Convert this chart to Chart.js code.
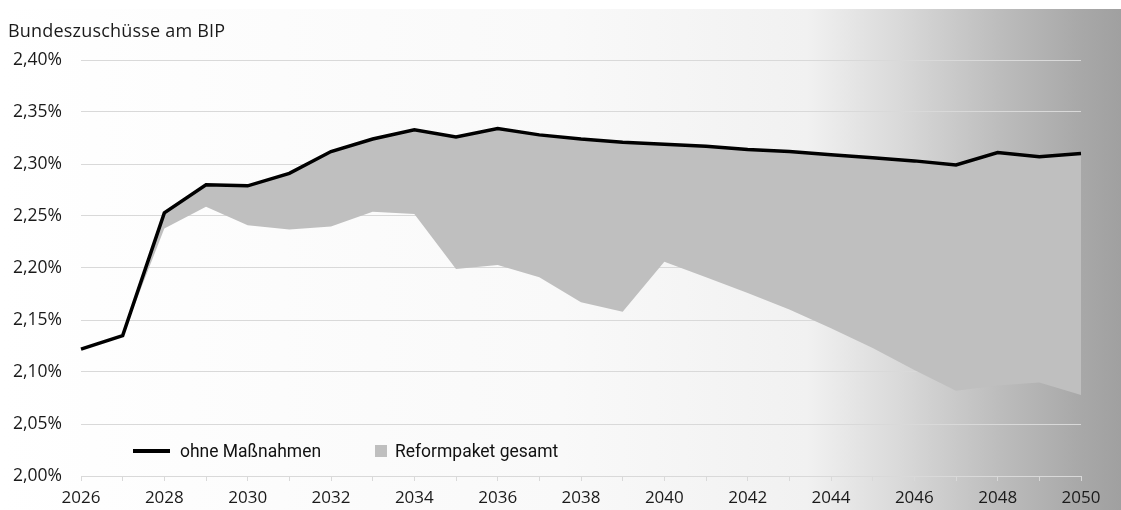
<!DOCTYPE html>
<html lang="de">
<head>
<meta charset="utf-8">
<title>Bundeszuschüsse am BIP</title>
<script src="https://cdn.jsdelivr.net/npm/chart.js@4.4.1/dist/chart.umd.min.js"></script>
<style>
    body { margin: 0; background: #fff; }
    #wrap { position: relative; width: 1121px; height: 510px; overflow: hidden; font-family: 'Open Sans', sans-serif; color: #1a1a1a; }
    #title { position: absolute; left: 8px; top: 18px; font-size: 18px; letter-spacing: 0.2px; }
    .leg { position: absolute; font-family: Roboto, 'Open Sans', sans-serif; font-size: 19px; line-height: 20px; top: 441px; color: #111;
           transform: scaleX(0.92); transform-origin: left center; white-space: nowrap; }
    .legLine { position: absolute; left: 133px; top: 449px; width: 37px; height: 4px; background: #000; }
    .legBox { position: absolute; left: 375px; top: 445px; width: 12px; height: 12px; background: #bfbfbf; }
</style>
</head>
<body>
<div id="wrap">
    <canvas id="chart" width="1121" height="510"></canvas>
    <div id="title">Bundeszuschüsse am BIP</div>
    <div class="legLine"></div>
    <div class="leg" style="left:180px">ohne Maßnahmen</div>
    <div class="legBox"></div>
    <div class="leg" style="left:395px">Reformpaket gesamt</div>
</div>
<script>
// years on the x axis
var years = ['2026', '2027', '2028', '2029', '2030', '2031', '2032', '2033', '2034', '2035', '2036', '2037', '2038',
             '2039', '2040', '2041', '2042', '2043', '2044', '2045', '2046', '2047', '2048', '2049', '2050'];

// ohne Maßnahmen (in % des BIP)
var ohneMassnahmen = [2.122, 2.135, 2.253, 2.280, 2.279, 2.291, 2.312, 2.324, 2.333, 2.326, 2.334, 2.328, 2.324,
                      2.321, 2.319, 2.317, 2.314, 2.312, 2.309, 2.306, 2.303, 2.299, 2.311, 2.307, 2.310];

// Reformpaket gesamt (untere Kante der grauen Fläche)
var reformpaket = [2.122, 2.135, 2.238, 2.259, 2.241, 2.237, 2.240, 2.254, 2.252, 2.199, 2.203, 2.191, 2.167,
                   2.158, 2.206, 2.191, 2.176, 2.160, 2.142, 2.123, 2.102, 2.082, 2.087, 2.090, 2.078];

// y axis range
var yMin = 2.00, yMax = 2.40, yStep = 0.05;

Chart.defaults.font.family = "'Open Sans', sans-serif";
Chart.defaults.font.size = 17;
Chart.defaults.color = '#1a1a1a';

// grey gradient behind everything
var bgPlugin = {
    id: 'bg',
    beforeDraw: function(chart) {
        var ctx = chart.ctx, w = chart.width, h = chart.height;
        ctx.save();
        ctx.fillStyle = '#fff';
        ctx.fillRect(0, 0, w, h);
        var g = ctx.createLinearGradient(0, 0, w, 0);
        g.addColorStop(0, '#ffffff');
        g.addColorStop(0.5, '#f9f9f9');
        g.addColorStop(0.72, '#f1f1f1');
        g.addColorStop(0.8, '#dadada');
        g.addColorStop(0.89, '#bdbdbd');
        g.addColorStop(0.96, '#a9a9a9');
        g.addColorStop(1, '#a0a0a0');
        ctx.fillStyle = g;
        ctx.fillRect(0, 9, w, h - 9);
        ctx.restore();
    }
};

var ctx = document.getElementById('chart').getContext('2d');
var chart = new Chart(ctx, {
    type: 'line',
    data: {
        labels: years,
        datasets: [{
            label: 'ohne Maßnahmen',
            data: ohneMassnahmen,
            borderColor: '#000',
            borderWidth: 3.5,
            pointRadius: 0,
            tension: 0,
            fill: false
        }, {
            label: 'Reformpaket gesamt',
            data: reformpaket,
            borderColor: 'rgba(0,0,0,0)',
            borderWidth: 0,
            backgroundColor: '#bfbfbf',
            pointRadius: 0,
            tension: 0,
            fill: '-1'
        }]
    },
    options: {
        responsive: false,
        animation: false,
        layout: { padding: { top: 60, right: 40, left: 0, bottom: 0 } },
        plugins: {
            legend: { display: false },
            tooltip: { enabled: false }
        },
        scales: {
            x: {
                grid: { display: true, drawOnChartArea: false, drawTicks: true, tickLength: 5, color: '#d9d9d9' },
                border: { display: true, color: '#d9d9d9' },
                ticks: {
                    autoSkip: false,
                    maxRotation: 0,
                    padding: 7,
                    callback: function(val, idx) { return idx % 2 === 0 ? years[idx] : ''; }
                },
                afterFit: function(s) { s.height = 34; }
            },
            y: {
                min: yMin,
                max: yMax,
                grid: { color: '#d9d9d9', drawTicks: false },
                border: { display: false },
                ticks: {
                    stepSize: yStep,
                    padding: 19,
                    font: { size: 17.5 },
                    callback: function(v) { return v.toFixed(2).replace('.', ',') + '%'; }
                },
                afterFit: function(s) { s.width = 81; }
            }
        }
    },
    plugins: [bgPlugin]
});
</script>
</body>
</html>
